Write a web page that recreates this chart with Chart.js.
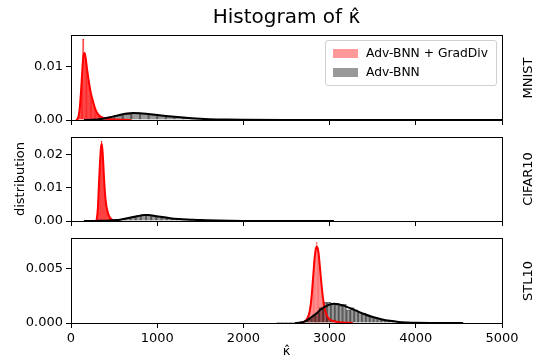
<!DOCTYPE html>
<html>
<head>
<meta charset="utf-8">
<script src="https://cdn.jsdelivr.net/npm/chart.js@4.4.1/dist/chart.umd.min.js"></script>
<style>
  body { margin: 0; background: #fff; }
  #wrap { position: relative; width: 537px; height: 361px; font-family: 'DejaVu Sans', sans-serif; color: #000; }
  canvas { position: absolute; left: 0; }
  .side { position: absolute; left: 527px; font-size: 13px; line-height: 1; white-space: nowrap;
          transform: translate(-50%, -50%) rotate(-90deg); }
  .box { position: absolute; box-sizing: border-box; border: 1px solid #000; pointer-events: none; z-index: 5; }
  #legend { position: absolute; left: 325px; top: 40px; width: 170px; height: 44px; z-index: 6;
            border: 1px solid #d0d0d0; border-radius: 3px; background: rgba(255,255,255,0.8); font-size: 12.3px; }
  #legend .row { position: absolute; left: 7px; height: 14px; line-height: 14px; white-space: nowrap; }
  #legend .patch { display: inline-block; width: 25px; height: 9px; margin-right: 8px; vertical-align: -1px; }
</style>
</head>
<body>
<div id="wrap">
  <canvas id="c1" width="537" height="130" style="top:0"></canvas>
  <canvas id="c2" width="537" height="101" style="top:130px"></canvas>
  <canvas id="c3" width="537" height="130" style="top:231px"></canvas>
  <div class="side" style="top:77.5px">MNIST</div>
  <div class="side" style="top:179px">CIFAR10</div>
  <div class="side" style="top:280.5px">STL10</div>
  <div id="legend"></div>
</div>
<script>
const seriesNames = ['Adv-BNN + GradDiv', 'Adv-BNN'];
const xTicks = [0, 1000, 2000, 3000, 4000, 5000];

// MNIST
const mnistGradDivStart = 75, mnistGradDivWidth = 15;
const mnistGradDivHist = [0.0005, 0.0015, 0.0045, 0.0085, 0.0152, 0.0125, 0.0115, 0.0092, 0.0074, 0.006, 0.0047,
  0.0038, 0.0028, 0.002, 0.0014, 0.001, 0.0007, 0.0005, 0.0004, 0.0003, 0.00025, 0.0002, 0.00015, 0.00012, 0.0001,
  0.0001, 0.00008, 0.00006, 0.00005, 0.00005, 0.00004, 0.00003, 0.00003, 0.00003, 0.00002, 0.00002, 0.00002,
  0.00002, 0.00001, 0.00001, 0.00001];
const mnistGradDivKdeX = [60, 80, 100, 115, 130, 145, 158, 172, 190, 210, 230, 250, 275, 300, 330, 360, 400, 450, 520, 600, 700];
const mnistGradDivKdeY = [0, 0.0003, 0.002, 0.005, 0.009, 0.0122, 0.0126, 0.0114, 0.0091, 0.0069, 0.0051, 0.0038,
  0.0024, 0.0014, 0.0008, 0.0005, 0.00028, 0.00015, 0.00008, 0.00004, 0];
const mnistBnnStart = 200, mnistBnnWidth = 100;
const mnistBnnHist = [0.00003, 0.00015, 0.00045, 0.00088, 0.00118, 0.00133, 0.00124, 0.00105, 0.00088, 0.0007,
  0.00056, 0.00042, 0.0003, 0.00022, 0.00016, 0.00011, 0.00008, 0.00006, 0.00005, 0.00004, 0.00003, 0.00003,
  0.00002, 0.00002, 0.00002, 0.00001, 0.00001, 0.00001, 0.00001, 0.00001];
const mnistBnnKdeX = [150, 250, 350, 450, 550, 650, 720, 800, 900, 1000, 1100, 1200, 1300, 1400, 1500, 1600, 1800, 2000, 2500, 3000, 4000, 5000];
const mnistBnnKdeY = [0, 0.00005, 0.0002, 0.0005, 0.0009, 0.00122, 0.0013, 0.00127, 0.00112, 0.00095, 0.00077,
  0.0006, 0.00045, 0.00032, 0.00022, 0.00015, 0.00008, 0.00005, 0.00002, 0.00001, 0.000005, 0];

// CIFAR10
const cifarGradDivStart = 300, cifarGradDivWidth = 10;
const cifarGradDivHist = [0.0005, 0.004, 0.011, 0.017, 0.022, 0.024, 0.021, 0.0165, 0.011, 0.0075, 0.0052, 0.0038,
  0.0027, 0.0019, 0.0013, 0.0009, 0.0006, 0.0004, 0.0002, 0.0001];
const cifarGradDivKdeX = [290, 300, 312, 324, 336, 348, 357, 366, 376, 386, 398, 412, 428, 445, 465, 490, 520, 560];
const cifarGradDivKdeY = [0, 0.0008, 0.004, 0.011, 0.0175, 0.0222, 0.0232, 0.021, 0.0165, 0.0115, 0.0072, 0.0043,
  0.0025, 0.0013, 0.0006, 0.00025, 0.00008, 0];
const cifarBnnStart = 150, cifarBnnWidth = 60;
const cifarBnnHist = [0.00001, 0.00002, 0.00003, 0.00005, 0.0001, 0.00018, 0.0004, 0.0006, 0.0009, 0.0012, 0.0016,
  0.0019, 0.0018, 0.0016, 0.0013, 0.0011, 0.0009, 0.00075, 0.0006, 0.0005, 0.0004, 0.00033, 0.00026, 0.0002,
  0.00015, 0.00012, 0.00009, 0.00007, 0.00005, 0.00004, 0.00003, 0.00003, 0.00002, 0.00002, 0.00002, 0.00002,
  0.00001, 0.00001, 0.00001, 0.00001, 0.00001, 0.00001, 0.00001, 0.00001, 0.00001, 0.00001, 0.00001, 0.00001];
const cifarBnnKdeX = [150, 300, 420, 500, 570, 650, 720, 780, 850, 900, 960, 1040, 1150, 1250, 1350, 1420, 1500, 1580, 1700, 1850, 2000, 2300, 2700, 3050];
const cifarBnnKdeY = [0, 0.00003, 0.0001, 0.00025, 0.0004, 0.00082, 0.0012, 0.0015, 0.0018, 0.00178, 0.0016, 0.0013,
  0.00085, 0.0006, 0.00045, 0.00038, 0.00028, 0.0002, 0.00012, 0.00006, 0.00003, 0.00001, 0.000005, 0];

// STL10
const stlGradDivStart = 2692.5, stlGradDivWidth = 15;
const stlGradDivHist = [0.0001, 0.0002, 0.0003, 0.0005, 0.0008, 0.0013, 0.0024, 0.0041, 0.0057, 0.0069, 0.0074,
  0.0068, 0.0056, 0.0041, 0.0029, 0.0019, 0.0012, 0.0008, 0.0006, 0.0004, 0.0003, 0.0003, 0.0002, 0.0002, 0.00015,
  0.0001, 0.0001, 0.0001, 0.00005, 0.00005, 0.00005, 0.00004, 0.00003, 0.00003, 0.00002, 0.00002, 0.00001];
const stlGradDivKdeX = [2650, 2700, 2740, 2770, 2790, 2810, 2830, 2850, 2870, 2890, 2910, 2930, 2950, 2980, 3020, 3080, 3150, 3270];
const stlGradDivKdeY = [0, 0.0001, 0.0004, 0.0011, 0.0023, 0.0043, 0.0062, 0.007, 0.0065, 0.0049, 0.0032, 0.0019,
  0.0011, 0.0005, 0.00025, 0.00012, 0.00005, 0];
const stlBnnStart = 2385, stlBnnWidth = 45;
const stlBnnHist = [0.00002, 0.00002, 0.00002, 0.00003, 0.00003, 0.00005, 0.0001, 0.0002, 0.0004, 0.0006, 0.0009,
  0.0014, 0.0019, 0.0019, 0.0018, 0.0018, 0.0016, 0.0017, 0.0012, 0.0014, 0.0012, 0.001, 0.0009, 0.0007, 0.0006,
  0.0005, 0.0004, 0.0003, 0.00025, 0.0002, 0.00015, 0.0001, 0.00008, 0.00006, 0.00005, 0.00004, 0.00003, 0.00003,
  0.00002, 0.00002, 0.00002, 0.00002, 0.00001, 0.00001, 0.00001, 0.00001, 0.00001, 0.00001];
const stlBnnKdeX = [2600, 2650, 2700, 2750, 2800, 2850, 2900, 2950, 3000, 3050, 3100, 3150, 3200, 3300, 3400, 3500, 3600, 3700, 3800, 3900, 4000, 4200, 4550];
const stlBnnKdeY = [0, 0.00003, 0.0001, 0.0003, 0.0006, 0.0009, 0.00125, 0.0015, 0.00168, 0.00175, 0.00172, 0.00162,
  0.00148, 0.00115, 0.00082, 0.00055, 0.00035, 0.0002, 0.0001, 0.00005, 0.00002, 0.000005, 0];

const legendColors = ['rgba(255,0,0,0.4)', 'rgba(0,0,0,0.4)'];

Chart.defaults.font.family = "'DejaVu Sans', sans-serif";
Chart.defaults.font.size = 13;
Chart.defaults.color = '#000';

function hist(start, width, values) {
  return values.map((v, i) => ({ x: start + (i + 0.5) * width, y: v }));
}
function curve(xs, ys) {
  return xs.map((x, i) => ({ x: x, y: ys[i] }));
}
// keep the plot box where the padding puts it
function noPad(s) {
  s.paddingTop = 0; s.paddingBottom = 0; s.paddingLeft = 0; s.paddingRight = 0;
}

// spines drawn on the canvas too, after the data
const spines = {
  id: 'spines',
  afterDatasetsDraw(chart) {
    const a = chart.chartArea, ctx = chart.ctx;
    ctx.save();
    ctx.strokeStyle = '#000';
    ctx.lineWidth = 1;
    ctx.strokeRect(Math.round(a.left) + 0.5, Math.round(a.top) + 0.5,
      Math.round(a.right) - Math.round(a.left), Math.round(a.bottom) - Math.round(a.top));
    ctx.restore();
  }
};

// box round each plot area (matplotlib spines)
function frameBox(chart, canvasTop) {
  const a = chart.chartArea;
  const d = document.createElement('div');
  d.className = 'box';
  d.style.left = Math.round(a.left) + 'px';
  d.style.top = (canvasTop + Math.round(a.top)) + 'px';
  d.style.width = (Math.round(a.right) - Math.round(a.left) + 1) + 'px';
  d.style.height = (Math.round(a.bottom) - Math.round(a.top) + 1) + 'px';
  document.getElementById('wrap').appendChild(d);
}

function panel(id, canvasTop, p) {
  const chart = new Chart(document.getElementById(id), {
    type: 'bar',
    data: {
      datasets: [
        { type: 'line', data: curve(p.bnnKdeX, p.bnnKdeY), borderColor: '#000', borderWidth: 2,
          pointRadius: 0, cubicInterpolationMode: 'monotone', order: 0 },
        { type: 'line', data: curve(p.gdKdeX, p.gdKdeY), borderColor: '#ff0000', borderWidth: 2,
          pointRadius: 0, cubicInterpolationMode: 'monotone', order: 1 },
        { label: seriesNames[1], data: p.bnnHist, backgroundColor: 'rgba(0,0,0,0.4)',
          borderColor: 'rgba(0,0,0,0.5)', borderWidth: 0.6, order: 2 },
        { label: seriesNames[0], data: p.gdHist, backgroundColor: p.gdFill,
          borderColor: p.gdEdge, borderWidth: 0.6, order: 3 }
      ]
    },
    options: {
      responsive: false,
      animation: false,
      events: [],
      datasets: {
        bar: { stack: 'h', barThickness: 'flex', categoryPercentage: 1, barPercentage: 1, borderSkipped: 'start' }
      },
      layout: { padding: { top: p.padTop, right: 35, left: 0, bottom: 0 } },
      plugins: {
        legend: { display: false },
        tooltip: { enabled: false },
        title: p.title ? { display: true, text: p.title, fullSize: false, color: '#000',
          font: { size: 20, weight: 'normal' }, padding: { top: 6, bottom: 5 } } : { display: false }
      },
      scales: {
        x: {
          type: 'linear', min: 0, max: 5000, offset: false, stacked: true,
          afterBuildTicks: s => { s.ticks = xTicks.map(v => ({ value: v })); },
          ticks: { display: p.showX, padding: 3, maxRotation: 0, callback: v => String(v) },
          grid: { drawOnChartArea: false, tickLength: 5, color: '#000', offset: false },
          border: { color: '#000' },
          title: { display: p.showX, text: 'κ̂', padding: { top: 0, bottom: 2 } },
          afterFit: s => { s.height = p.xHeight; noPad(s); }
        },
        y: {
          min: 0, max: p.yMax, stacked: false,
          ticks: { stepSize: p.yStep, includeBounds: false, padding: 3, callback: v => v.toFixed(p.digits) },
          grid: { drawOnChartArea: false, tickLength: 5, color: '#000' },
          border: { color: '#000' },
          title: { display: !!p.yTitle, text: p.yTitle, padding: { top: 13, bottom: 0 } },
          afterFit: s => { s.width = 71; noPad(s); }
        }
      }
    },
    plugins: [spines]
  });
  frameBox(chart, canvasTop);
  return chart;
}

panel('c1', 0, {
  title: 'Histogram of κ̂', padTop: 0, xHeight: 10, showX: false, yMax: 0.016, yStep: 0.01, digits: 2,
  gdHist: hist(mnistGradDivStart, mnistGradDivWidth, mnistGradDivHist), gdKdeX: mnistGradDivKdeX, gdKdeY: mnistGradDivKdeY,
  bnnHist: hist(mnistBnnStart, mnistBnnWidth, mnistBnnHist), bnnKdeX: mnistBnnKdeX, bnnKdeY: mnistBnnKdeY,
  gdFill: 'rgba(255,0,0,0.7)', gdEdge: 'rgba(255,0,0,0.9)'
});
panel('c2', 130, {
  yTitle: 'distribution', padTop: 7, xHeight: 10, showX: false, yMax: 0.0253, yStep: 0.01, digits: 2,
  gdHist: hist(cifarGradDivStart, cifarGradDivWidth, cifarGradDivHist), gdKdeX: cifarGradDivKdeX, gdKdeY: cifarGradDivKdeY,
  bnnHist: hist(cifarBnnStart, cifarBnnWidth, cifarBnnHist), bnnKdeX: cifarBnnKdeX, bnnKdeY: cifarBnnKdeY,
  gdFill: 'rgba(255,0,0,0.75)', gdEdge: 'rgba(255,0,0,0.9)'
});
panel('c3', 231, {
  padTop: 7, xHeight: 38, showX: true, yMax: 0.00777, yStep: 0.005, digits: 3,
  gdHist: hist(stlGradDivStart, stlGradDivWidth, stlGradDivHist), gdKdeX: stlGradDivKdeX, gdKdeY: stlGradDivKdeY,
  bnnHist: hist(stlBnnStart, stlBnnWidth, stlBnnHist), bnnKdeX: stlBnnKdeX, bnnKdeY: stlBnnKdeY,
  gdFill: 'rgba(255,0,0,0.4)', gdEdge: 'rgba(255,0,0,0.45)'
});

// legend box inside the top panel
const legend = document.getElementById('legend');
seriesNames.forEach((name, i) => {
  const row = document.createElement('div');
  row.className = 'row';
  row.style.top = (5 + i * 19) + 'px';
  row.innerHTML = '<span class="patch" style="background:' + legendColors[i] + '"></span>' + name;
  legend.appendChild(row);
});
</script>
</body>
</html>
